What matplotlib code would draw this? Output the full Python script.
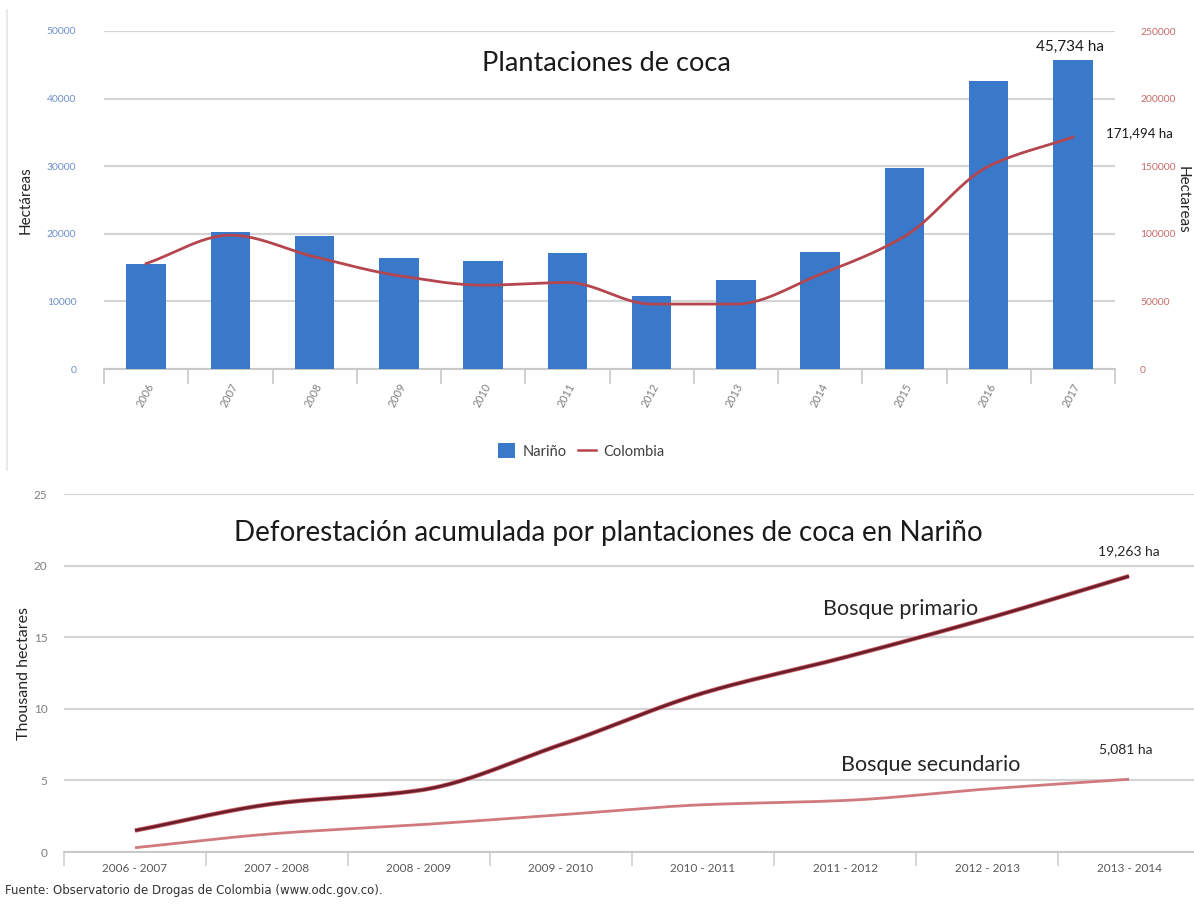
import numpy as np
import matplotlib
matplotlib.use("Agg")
import matplotlib.pyplot as plt
from matplotlib.lines import Line2D
from matplotlib.patches import Patch

# ---- data: coca plantations ----
years = ["2006", "2007", "2008", "2009", "2010", "2011",
         "2012", "2013", "2014", "2015", "2016", "2017"]
narino_ha = [15606, 20259, 19612, 16428, 15951, 17231,
             10733, 13177, 17285, 29755, 42627, 45734]
colombia_ha = [78000, 99000, 83000, 69000, 62000, 64000,
               48000, 48000, 70000, 98000, 150000, 171494]

# ---- data: accumulated deforestation (thousand ha) ----
periods = ["2006 - 2007", "2007 - 2008", "2008 - 2009", "2009 - 2010",
           "2010 - 2011", "2011 - 2012", "2012 - 2013", "2013 - 2014"]
bosque_primario = [1.5, 3.4, 4.3, 7.5, 11.1, 13.6, 16.3, 19.263]
bosque_secundario = [0.3, 1.3, 1.9, 2.6, 3.3, 3.6, 4.4, 5.081]

W, H = 1194, 905
SANS = ["Lato", "DejaVu Sans"]


def smooth(x, y, n=30):
    """Monotone cubic (Fritsch-Carlson) path through the points."""
    x = np.asarray(x, float)
    y = np.asarray(y, float)
    h = np.diff(x)
    d = np.diff(y) / h
    m = np.zeros_like(y)
    m[0], m[-1] = d[0], d[-1]
    for k in range(1, len(y) - 1):
        if d[k - 1] * d[k] <= 0:
            m[k] = 0.0
        else:
            m[k] = 2.0 / (1.0 / d[k - 1] + 1.0 / d[k])
    xs, ys = [], []
    for i in range(len(x) - 1):
        t = np.linspace(0, 1, n, endpoint=(i == len(x) - 2))
        h00 = 2 * t**3 - 3 * t**2 + 1
        h10 = t**3 - 2 * t**2 + t
        h01 = -2 * t**3 + 3 * t**2
        h11 = t**3 - t**2
        xs.append(x[i] + t * h[i])
        ys.append(h00 * y[i] + h10 * h[i] * m[i] + h01 * y[i + 1] + h11 * h[i] * m[i + 1])
    return np.concatenate(xs), np.concatenate(ys)


def px_axes(fig, x0, y0, x1, y1):
    return fig.add_axes([x0 / W, 1 - y1 / H, (x1 - x0) / W, (y1 - y0) / H])


fig = plt.figure(figsize=(W / 100, H / 100), dpi=100)
fig.patch.set_facecolor("white")

# faint frame line on the left of the upper panel
fig.add_artist(Line2D([7 / W, 7 / W], [1 - 470 / H, 1 - 10 / H],
                      color="#e6e6e6", lw=1.2))

# ================= upper panel =================
ax = px_axes(fig, 104, 31, 1115, 369)
xi = np.arange(len(years))
ax.bar(xi, narino_ha, width=0.47, color="#3a78c9", zorder=3)
ax.set_xlim(-0.5, len(years) - 0.5)
ax.set_ylim(0, 50000)
ax.set_yticks(np.arange(0, 50001, 10000))
ax.yaxis.grid(True, color="#d4d4d4", lw=1.6, zorder=0)
ax.set_axisbelow(True)
for s in ["top", "right", "left"]:
    ax.spines[s].set_visible(False)
ax.spines["bottom"].set_color("#c8c8c8")
ax.spines["bottom"].set_linewidth(1.4)
ax.tick_params(axis="y", length=0, pad=20, labelsize=7.5, labelcolor="#6f8fc5")
ax.set_xticks(np.arange(-0.5, len(years), 1.0))
ax.set_xticklabels([])
ax.tick_params(axis="x", which="major", length=11, color="#c8c8c8", width=1.2)
ax.set_xticks(xi, minor=True)
ax.set_xticklabels(years, minor=True, rotation=62, ha="right",
                   rotation_mode="anchor", fontsize=7.8, color="#7f7f7f")
ax.tick_params(axis="x", which="minor", length=0, pad=9)
for t in ax.get_yticklabels() + ax.get_xticklabels(minor=True):
    t.set_family(SANS)
ax.set_ylabel("Hectáreas", fontsize=11, family=SANS, color="#262626", labelpad=10)

ax2 = ax.twinx()
sx, sy = smooth(xi, colombia_ha)
ax2.plot(sx, sy, color="#b5454e", lw=2.0, zorder=4)
ax2.set_ylim(0, 250000)
ax2.set_yticks(np.arange(0, 250001, 50000))
for s in ["top", "right", "left", "bottom"]:
    ax2.spines[s].set_visible(False)
ax2.tick_params(axis="y", length=0, pad=18, labelsize=7.5, labelcolor="#c76a6a")
for t in ax2.get_yticklabels():
    t.set_family(SANS)
ax2.set_ylabel("Hectareas", fontsize=11, family=SANS, color="#262626",
               rotation=270, labelpad=10)

ax.text(0.497, 0.905, "Plantaciones de coca", transform=ax.transAxes,
        ha="center", va="center", fontsize=19.5, family=SANS, color="#1a1a1a")
ax.annotate(f"{narino_ha[-1]:,} ha", (xi[-1], narino_ha[-1]),
            xytext=(-2, 4), textcoords="offset points", ha="center", va="bottom",
            fontsize=11, family=SANS, color="#1a1a1a")
ax2.annotate(f"{colombia_ha[-1]:,} ha", (xi[-1], colombia_ha[-1]),
             xytext=(24, 3), textcoords="offset points", ha="left", va="center",
             fontsize=9.5, family=SANS, color="#1a1a1a", annotation_clip=False)

handles = [Patch(facecolor="#3a78c9", edgecolor="none"),
           Line2D([], [], color="#b5454e", lw=1.8)]
fig.legend(handles, ["Nariño", "Colombia"], loc="center",
           bbox_to_anchor=(581 / W, 1 - 451 / H), ncol=2, frameon=False,
           prop={"family": SANS, "size": 10.5}, handlelength=1.2,
           handleheight=1.2, columnspacing=0.8, handletextpad=0.5,
           labelcolor="#404040")

# ================= lower panel =================
bx = px_axes(fig, 64, 494, 1200, 852)
pi = np.arange(len(periods))
bx.set_xlim(-0.5, len(periods) - 0.5)
bx.set_ylim(0, 25)
bx.set_yticks(np.arange(0, 26, 5))
bx.yaxis.grid(True, color="#d4d4d4", lw=1.6, zorder=0)
bx.set_axisbelow(True)
for s in ["top", "right", "left"]:
    bx.spines[s].set_visible(False)
bx.spines["bottom"].set_color("#c8c8c8")
bx.spines["bottom"].set_linewidth(1.4)
bx.tick_params(axis="y", length=0, pad=12, labelsize=8.5, labelcolor="#7f7f7f")
bx.set_xticks(np.arange(-0.5, len(periods), 1.0))
bx.set_xticklabels([])
bx.tick_params(axis="x", which="major", length=10, color="#d0d0d0", width=1.2)
bx.set_xticks(pi, minor=True)
bx.set_xticklabels(periods, minor=True, fontsize=8.5, color="#595959")
bx.tick_params(axis="x", which="minor", length=0, pad=8)
for t in bx.get_yticklabels() + bx.get_xticklabels(minor=True):
    t.set_family(SANS)
bx.set_ylabel("Thousand hectares", fontsize=11.5, family=SANS, color="#262626",
              labelpad=2)

px, py = smooth(pi, bosque_primario)
bx.plot(px, py, color="#d0606a", lw=3.2, zorder=3, solid_capstyle="butt")
bx.plot(px, py, color="#6a1f2a", lw=2.0, zorder=4, solid_capstyle="butt")
qx, qy = smooth(pi, bosque_secundario)
bx.plot(qx, qy, color="#d07a80", lw=2.0, zorder=3, solid_capstyle="butt")

bx.text(0.479, 0.89, "Deforestación acumulada por plantaciones de coca en Nariño",
        transform=bx.transAxes, ha="center", va="center", fontsize=20,
        family=SANS, color="#1a1a1a")
bx.text(5.39, 17.0, "Bosque primario", ha="center", va="center", fontsize=15.5,
        family=SANS, color="#262626")
bx.text(5.6, 6.1, "Bosque secundario", ha="center", va="center", fontsize=15.5,
        family=SANS, color="#262626")
bx.annotate(f"{bosque_primario[-1]:,.3f} ha".replace(".", ","),
            (pi[-1], bosque_primario[-1]), xytext=(0, 14),
            textcoords="offset points", ha="center", va="bottom",
            fontsize=10, family=SANS, color="#262626")
bx.annotate(f"{bosque_secundario[-1]:,.3f} ha".replace(".", ","),
            (pi[-1], bosque_secundario[-1]), xytext=(-2, 17),
            textcoords="offset points", ha="center", va="bottom",
            fontsize=10, family=SANS, color="#262626")

fig.text(5 / W, 1 - 890 / H,
         "Fuente: Observatorio de Drogas de Colombia (www.odc.gov.co).",
         ha="left", va="center", fontsize=8.5, family="DejaVu Sans",
         color="#333333")

fig.savefig("out.png", dpi=100, facecolor="white")
